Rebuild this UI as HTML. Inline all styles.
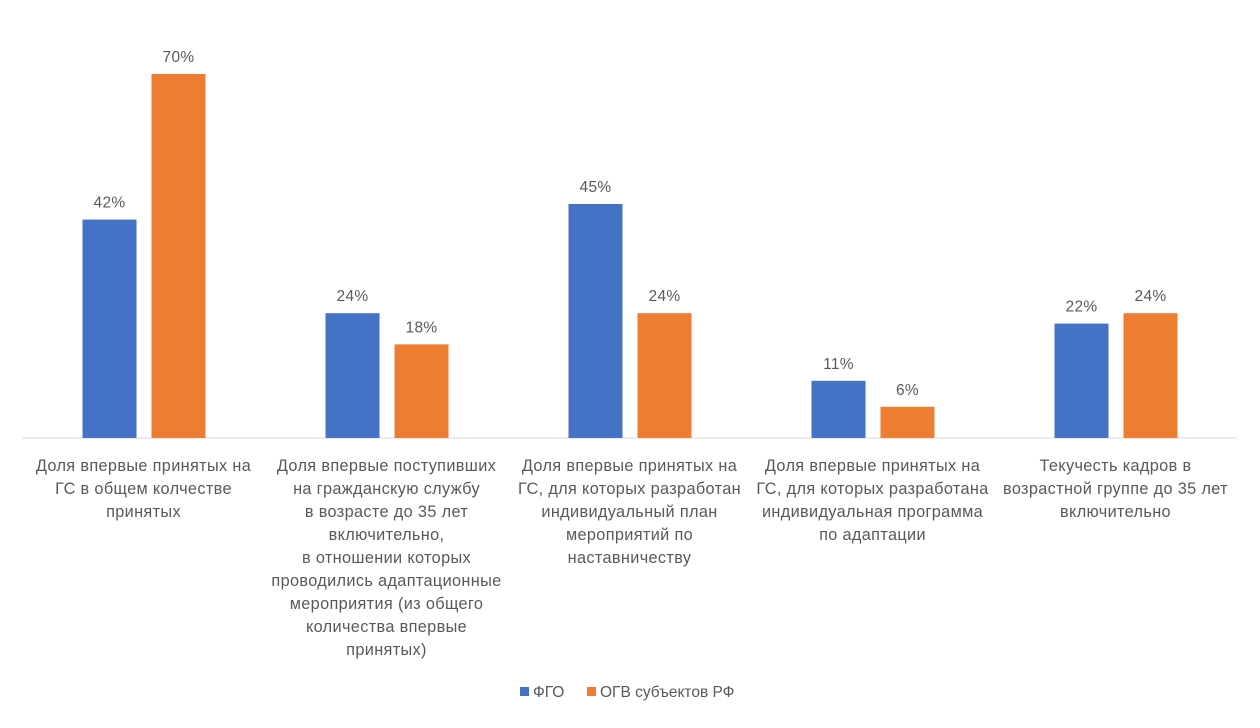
<!DOCTYPE html>
<html><head><meta charset="utf-8"><style>
body{margin:0;background:#fff;width:1260px;height:723px;overflow:hidden;font-family:"Liberation Sans","DejaVu Sans",sans-serif}
svg text{font-family:"Liberation Sans","DejaVu Sans",sans-serif;fill:#595959}
</style></head><body>
<svg id="chart" width="1260" height="723" xmlns="http://www.w3.org/2000/svg"></svg>
<script>
const categories=[
["Доля впервые принятых на","ГС в общем колчестве","принятых"],
["Доля впервые поступивших","на гражданскую службу","в возрасте до 35 лет","включительно,","в отношении которых","проводились адаптационные","мероприятия (из общего","количества впервые","принятых)"],
["Доля впервые принятых на","ГС, для которых разработан","индивидуальный план","мероприятий по","наставничеству"],
["Доля впервые принятых на","ГС, для которых разработана","индивидуальная программа","по адаптации"],
["Текучесть кадров в","возрастной группе до 35 лет","включительно"]];
const fgo=[42,24,45,11,22];
const ogv=[70,18,24,6,24];
const seriesNames=["ФГО","ОГВ субъектов РФ"];
const colors=["#4472C4","#ED7D31"];
const svg=document.getElementById('chart');
const NS="http://www.w3.org/2000/svg";
const x0=22,x1=1237,base=438,scale=5.2;
const bw=(x1-x0)/categories.length;
const y=v=>base-v*scale;
function mk(t,a,txt){const e=document.createElementNS(NS,t);for(const k in a)e.setAttribute(k,a[k]);if(txt!==undefined)e.textContent=txt;svg.appendChild(e);return e;}
const axis=mk('line',{x1:x0,x2:x1,y1:base,y2:base,stroke:'#d9d9d9','stroke-width':1});


[fgo,ogv].forEach((s,si)=>{
 s.forEach((v,i)=>{
  const c=x0+bw*(i+0.5);
  const bx=si===0?c-61:c+8;
  const r=mk('rect',{x:bx,y:y(v),width:54,height:v*scale,fill:colors[si]});
  
  
  const t=mk('text',{x:bx+27,y:y(v)-12,'text-anchor':'middle','font-size':15.5,'letter-spacing':0.3},v+'%');
  
  
 });
});
categories.forEach((lines,i)=>{
 const c=x0+bw*(i+0.5);
 lines.forEach((l,j)=>{
  const t=mk('text',{x:c,y:471+j*23,'text-anchor':'middle','font-size':16.3,'letter-spacing':0.35},l);
  
  
 });
});
const lx=[520,587];
seriesNames.forEach((n,i)=>{
 const r=mk('rect',{x:lx[i],y:687,width:9,height:9,fill:colors[i]});
 
 
 const t=mk('text',{x:lx[i]+13,y:697,'font-size':15.5},n);
 
 
});
</script>
</body></html>
